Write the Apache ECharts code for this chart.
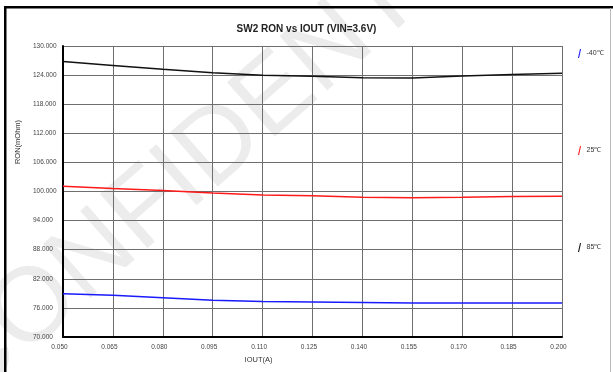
<!DOCTYPE html>
<html>
<head>
<meta charset="utf-8">
<script src="https://cdn.jsdelivr.net/npm/echarts@6/dist/echarts.min.js"></script>
<style>
  html, body { margin: 0; padding: 0; background: #fff; }
  #chart { width: 613px; height: 372px; }
</style>
</head>
<body>
<div id="chart"></div>
<script>
// Output current sweep points (A)
const iout = ['0.050', '0.065', '0.080', '0.095', '0.110', '0.125', '0.140', '0.155', '0.170', '0.185', '0.200'];

// On-resistance per temperature (mOhm)
const ronMinus40 = [78.9, 78.6, 78.1, 77.6, 77.3, 77.2, 77.1, 77.0, 77.0, 77.0, 77.0];
const ron25      = [101.1, 100.6, 100.2, 99.7, 99.3, 99.1, 98.8, 98.7, 98.8, 98.95, 99.0];
const ron85      = [126.8, 126.0, 125.2, 124.5, 123.95, 123.75, 123.45, 123.4, 123.8, 124.1, 124.4];

const seriesNames = ['-40\u2103', '25\u2103', '85\u2103'];

// Y scale: 70 .. 130 mOhm in steps of 6
const yMin = 70, yMax = 130, yStep = 6;

const FONT = '"Liberation Sans", Arial, sans-serif';
const rel = arr => arr.map(v => +(v - yMin).toFixed(3));
const slash = 'path://M0,10 L2.2,0 L3.4,0 L1.2,10 Z';

const chart = echarts.init(document.getElementById('chart'), null, { renderer: 'canvas' });

chart.setOption({
  backgroundColor: '#ffffff',
  animation: false,
  title: {
    text: 'SW2 RON vs IOUT (VIN=3.6V)',
    left: 'center',
    top: 19,
    textStyle: { fontFamily: FONT, fontSize: 10, fontWeight: 'bold', color: '#222' }
  },
  legend: {
    orient: 'vertical',
    left: 573,
    top: 44,
    itemGap: 88,
    itemWidth: 4,
    itemHeight: 9,
    icon: slash,
    data: seriesNames,
    textStyle: { fontFamily: FONT, fontSize: 7, color: '#333', padding: [-4, 0, 0, 0] }
  },
  grid: { left: 63, right: 51, top: 46, bottom: 35, containLabel: false },
  xAxis: {
    type: 'category',
    data: iout,
    boundaryGap: false,
    name: 'IOUT(A)',
    nameLocation: 'middle',
    nameGap: 19,
    nameTextStyle: { fontFamily: FONT, fontSize: 7.5, color: '#333', padding: [0, 108, 0, 0] },
    axisLine: { show: true, lineStyle: { color: '#000', width: 2 } },
    axisTick: { show: false },
    axisLabel: { fontFamily: FONT, fontSize: 6.5, color: '#444', margin: 7, padding: [0, 7, 0, 0] },
    splitLine: { show: true, lineStyle: { color: '#6e6e6e', width: 1 } }
  },
  yAxis: {
    type: 'value',
    min: 0,
    max: yMax - yMin,
    interval: yStep,
    axisLine: { show: true, onZero: false, lineStyle: { color: '#000', width: 2 } },
    axisTick: { show: false },
    axisLabel: {
      fontFamily: FONT, fontSize: 6.5, color: '#444',
      align: 'left', margin: 30, padding: [0, 0, 8, 0],
      formatter: v => (v + yMin).toFixed(3)
    },
    splitLine: { show: true, lineStyle: { color: '#6e6e6e', width: 1 } }
  },
  graphic: [
    {
      type: 'text',
      z: -100,
      x: 236, y: 132,
      rotation: 0.72,
      style: {
        text: 'CONFIDENTIAL',
        font: '105px "Liberation Sans", Arial, sans-serif',
        fill: '#ececec',
        align: 'center',
        verticalAlign: 'middle'
      }
    },
    { type: 'rect', z: 100, shape: { x: 4, y: 6, width: 609, height: 2.5 }, style: { fill: '#000' } },
    { type: 'rect', z: 100, shape: { x: 4, y: 6, width: 2.5, height: 366 }, style: { fill: '#000' } },
    { type: 'line', z: 100, shape: { x1: 610.5, y1: 8, x2: 610.5, y2: 372 }, style: { stroke: '#bbb', lineWidth: 1 } },
    {
      type: 'text',
      z: 100,
      x: 18, y: 142,
      rotation: Math.PI / 2,
      style: {
        text: 'RON(mOhm)',
        font: '7.5px "Liberation Sans", Arial, sans-serif',
        fill: '#333',
        align: 'center',
        verticalAlign: 'middle'
      }
    }
  ],
  series: [
    {
      name: seriesNames[0], type: 'line', data: rel(ronMinus40), showSymbol: false,
      lineStyle: { color: '#1a1aff', width: 1.5 }, itemStyle: { color: '#1a1aff' }, z: 3
    },
    {
      name: seriesNames[1], type: 'line', data: rel(ron25), showSymbol: false,
      lineStyle: { color: '#ff1a1a', width: 1.5 }, itemStyle: { color: '#ff1a1a' }, z: 3
    },
    {
      name: seriesNames[2], type: 'line', data: rel(ron85), showSymbol: false,
      lineStyle: { color: '#111', width: 1.5 }, itemStyle: { color: '#111' }, z: 3
    }
  ]
});
</script>
</body>
</html>
